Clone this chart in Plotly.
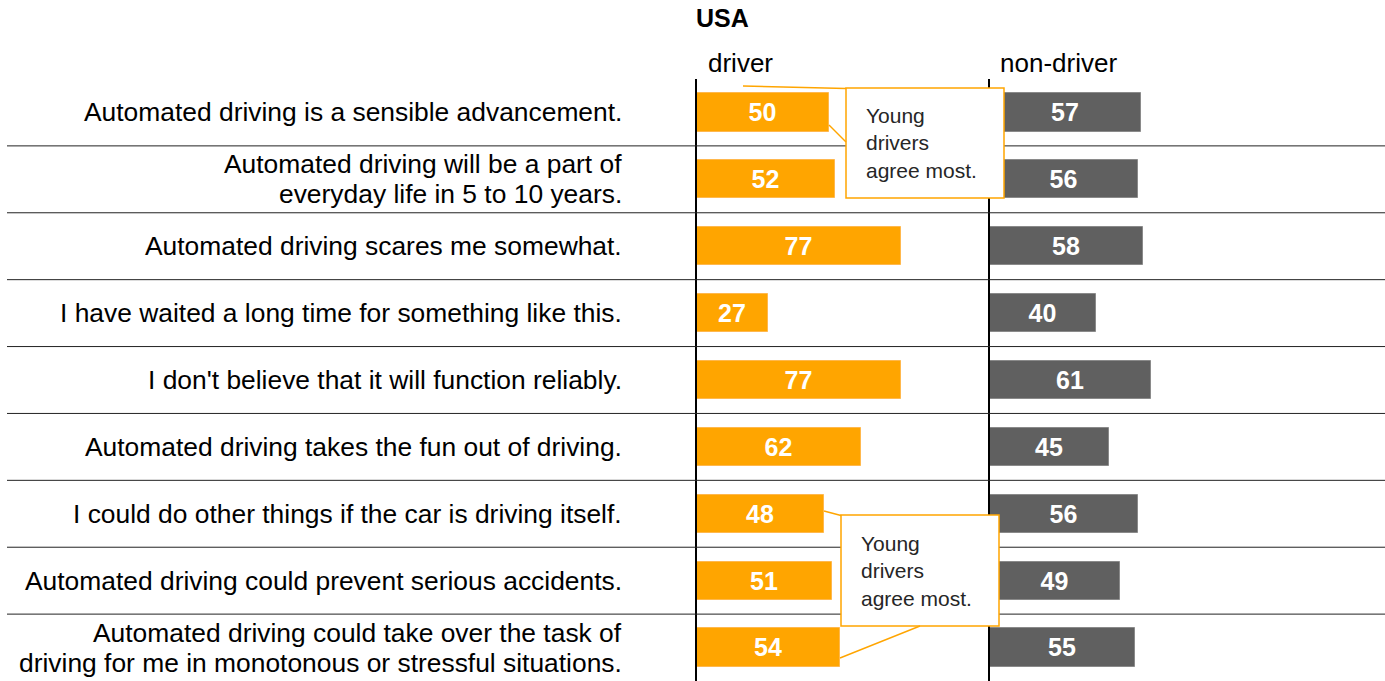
import plotly.graph_objects as go

# ---- data ----
statements = [
    "Automated driving is a sensible advancement.",
    "Automated driving will be a part of<br>everyday life in 5 to 10 years.",
    "Automated driving scares me somewhat.",
    "I have waited a long time for something like this.",
    "I don't believe that it will function reliably.",
    "Automated driving takes the fun out of driving.",
    "I could do other things if the car is driving itself.",
    "Automated driving could prevent serious accidents.",
    "Automated driving could take over the task of<br>driving for me in monotonous or stressful situations.",
]
driver = [50, 52, 77, 27, 77, 62, 48, 51, 54]
non_driver = [57, 56, 58, 40, 61, 45, 56, 49, 55]
group_labels = ["driver", "non-driver"]
title_text = "USA"
callout_text = "Young<br>drivers<br>agree most."

# ---- layout constants ----
W, H = 1385, 681
FONT = "Liberation Sans, Arial, Helvetica, sans-serif"
ORANGE = "#FFA500"
GRAY = "#606060"
PX_PER_UNIT = 2.645
X1_L, X1_R = 697, 990
TOP = 79


def fx(p):
    return p / W


def fy(p):
    return 1 - p / H


ytop = fy(TOP)
cats = [s.replace("<br>", " ") for s in statements]

fig = go.Figure()
fig.add_trace(go.Bar(
    orientation="h", x=driver, y=cats, xaxis="x", yaxis="y",
    marker=dict(color=ORANGE, line=dict(width=1, color="#FFB84D")),
    width=0.57, text=driver, textposition="inside", insidetextanchor="middle",
    textfont=dict(family=FONT, size=25, color="white", weight="bold"),
    hoverinfo="skip", showlegend=False,
))
fig.add_trace(go.Bar(
    orientation="h", x=non_driver, y=cats, xaxis="x2", yaxis="y2",
    marker=dict(color=GRAY, line=dict(width=1, color="#8A8A8A")),
    width=0.57, text=non_driver, textposition="inside", insidetextanchor="middle",
    textfont=dict(family=FONT, size=25, color="white", weight="bold"),
    hoverinfo="skip", showlegend=False,
))

axis_common = dict(showgrid=False, zeroline=False, showticklabels=False, ticks="")
yax = dict(type="category", categoryorder="array", categoryarray=cats,
           range=[len(cats) - 0.5, -0.5], domain=[0, ytop],
           showline=True, linecolor="black", linewidth=2, **axis_common)

fig.update_layout(
    width=W, height=H, margin=dict(l=0, r=0, t=0, b=0),
    paper_bgcolor="white", plot_bgcolor="white",
    font=dict(family=FONT, color="black"),
    bargap=0,
    xaxis=dict(domain=[fx(X1_L), fx(X1_R)], range=[0, (X1_R - X1_L) / PX_PER_UNIT],
               anchor="y", **axis_common),
    xaxis2=dict(domain=[fx(X1_R), 1], range=[0, (W - X1_R) / PX_PER_UNIT],
                anchor="y2", **axis_common),
    yaxis=dict(anchor="x", **yax),
    yaxis2=dict(anchor="x2", matches="y", **yax),
)

shapes = []
# row separators
for i in range(len(cats) - 1):
    shapes.append(dict(type="line", xref="paper", yref="y", x0=fx(7), x1=1,
                       y0=i + 0.5, y1=i + 0.5, line=dict(color="#222222", width=1),
                       layer="above"))

# callouts (pixel geometry)
callouts = [
    dict(box=(846, 88, 1004, 198),
         lines=[((743, 86), (846, 88.5)), ((829, 125), (846, 142))],
         text_x=864, text_y=143),
    dict(box=(841, 515, 999, 626),
         lines=[((824, 511), (841, 515.5)), ((920, 626), (840, 658))],
         text_x=859, text_y=571),
]
annotations = []
for c in callouts:
    x0, y0, x1, y1 = c["box"]
    shapes.append(dict(type="rect", xref="paper", yref="paper",
                       x0=fx(x0), x1=fx(x1), y0=fy(y1), y1=fy(y0),
                       fillcolor="white", line=dict(color=ORANGE, width=1.5), layer="above"))
    for (ax0, ay0), (ax1, ay1) in c["lines"]:
        shapes.append(dict(type="line", xref="paper", yref="paper",
                           x0=fx(ax0), y0=fy(ay0), x1=fx(ax1), y1=fy(ay1),
                           line=dict(color=ORANGE, width=1.5), layer="above"))
    annotations.append(dict(xref="paper", yref="paper", x=fx(c["text_x"]), y=fy(c["text_y"]),
                            xanchor="left", yanchor="middle", align="left", showarrow=False,
                            text=callout_text, font=dict(family=FONT, size=21, color="#262626")))

# category labels (right aligned)
LINE_SP = 30
for i, s in enumerate(statements):
    parts = s.split("<br>")
    n = len(parts)
    for k, p in enumerate(parts):
        annotations.append(dict(xref="paper", yref="y", x=fx(624), y=i,
                                xanchor="right", yanchor="middle", showarrow=False,
                                text=p, yshift=((n - 1) / 2 - k) * LINE_SP,
                                font=dict(family=FONT, size=26.4, color="black")))

# headers
annotations.append(dict(xref="paper", yref="paper", x=fx(706), y=fy(63), xanchor="left",
                        yanchor="middle", showarrow=False, text=group_labels[0],
                        font=dict(family=FONT, size=26, color="black")))
annotations.append(dict(xref="paper", yref="paper", x=fx(998), y=fy(63), xanchor="left",
                        yanchor="middle", showarrow=False, text=group_labels[1],
                        font=dict(family=FONT, size=26, color="black")))
annotations.append(dict(xref="paper", yref="paper", x=fx(722), y=fy(18), xanchor="center",
                        yanchor="middle", showarrow=False, text="<b>" + title_text + "</b>",
                        font=dict(family=FONT, size=25, color="black")))

fig.update_layout(shapes=shapes, annotations=annotations)
fig.write_html(
    "out.html",
    config={"displayModeBar": False},
    post_script="document.body.style.margin='0px';document.body.style.overflow='hidden';",
)
